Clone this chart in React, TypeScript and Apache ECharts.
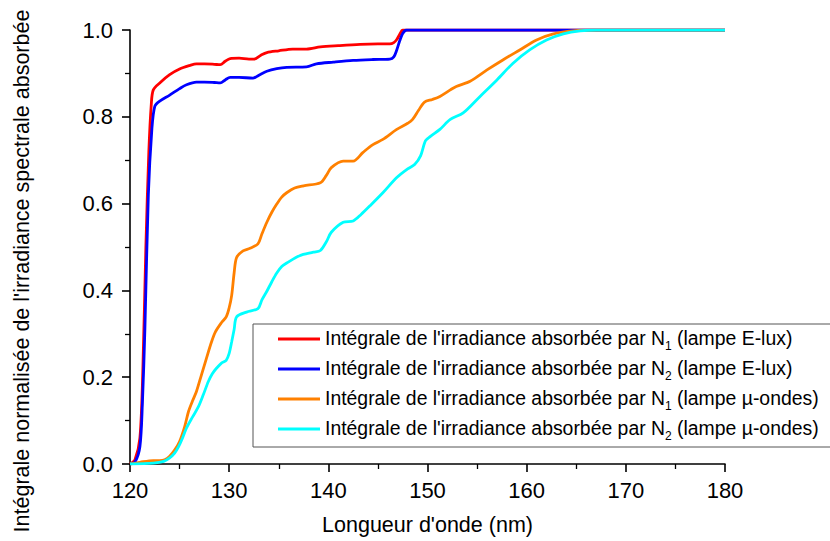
import React, { useEffect, useRef } from "react";
import * as echarts from "echarts";

const FONT = "'Liberation Sans', Arial, Helvetica, sans-serif";

const seriesNames = [
  "Intégrale de l'irradiance absorbée par N1 (lampe E-lux)",
  "Intégrale de l'irradiance absorbée par N2 (lampe E-lux)",
  "Intégrale de l'irradiance absorbée par N1 (lampe µ-ondes)",
  "Intégrale de l'irradiance absorbée par N2 (lampe µ-ondes)",
];
const seriesColors = ["#FF0000", "#0000FF", "#FF8000", "#00FFFF"];

const xTicks = [120, 130, 140, 150, 160, 170, 180];
const yTicks = [0, 0.2, 0.4, 0.6, 0.8, 1.0];

const redX = [120, 120.5, 121, 121.3, 121.6, 121.9, 122.15, 122.35, 123, 124, 125, 126, 126.7, 127.5, 128.5, 129.1, 129.6, 130.1, 131, 132, 132.5, 133.2, 133.8, 135, 136.4, 137.8, 139.2, 141, 143.2, 145, 146.2, 146.6, 146.9, 147.2, 147.5, 148, 150, 160, 170, 180];
const redY = [0, 0.01, 0.06, 0.22, 0.5, 0.72, 0.83, 0.862, 0.878, 0.897, 0.91, 0.918, 0.922, 0.922, 0.921, 0.92, 0.928, 0.934, 0.935, 0.933, 0.933, 0.942, 0.948, 0.952, 0.956, 0.956, 0.961, 0.964, 0.967, 0.968, 0.968, 0.971, 0.978, 0.99, 1.0, 1.0, 1.0, 1.0, 1.0, 1.0];

const blueX = [120, 120.5, 121, 121.25, 121.5, 121.85, 122.2, 122.5, 123, 124, 125, 125.7, 126.7, 127.5, 128.5, 129.1, 129.6, 130.1, 131, 132.4, 133, 133.8, 134.8, 135.8, 137.8, 138.8, 140.5, 142.5, 144.5, 146.2, 146.6, 146.9, 147.2, 147.5, 147.9, 150, 160, 170, 180];
const blueY = [0, 0.004, 0.04, 0.14, 0.31, 0.62, 0.77, 0.824, 0.836, 0.85, 0.865, 0.874, 0.88, 0.88, 0.879, 0.878, 0.885, 0.891, 0.891, 0.889, 0.896, 0.905, 0.911, 0.914, 0.915, 0.922, 0.926, 0.93, 0.932, 0.933, 0.938, 0.954, 0.975, 0.992, 1.0, 1.0, 1.0, 1.0, 1.0];

const orangeX = [120, 121, 122.35, 123, 123.5, 124, 124.5, 125, 125.5, 125.9, 126.3, 126.7, 127.2, 127.7, 128.2, 128.6, 129.2, 129.7, 130.0, 130.25, 130.5, 130.75, 131.4, 132.1, 132.9, 133.3, 133.8, 134.3, 134.8, 135.3, 135.8, 136.6, 137.5, 139.2, 139.8, 140.3, 141.5, 142.5, 143.5, 144.5, 145.5, 146.9, 148.0, 148.5, 149.1, 149.7, 150.5, 151.25, 152.3, 152.9, 154.3, 156.0, 157.6, 159.3, 161.0, 162.7, 164.7, 167, 170, 180];
const orangeY = [0, 0.004, 0.008, 0.008, 0.01, 0.018, 0.032, 0.052, 0.085, 0.121, 0.145, 0.167, 0.205, 0.243, 0.28, 0.304, 0.325, 0.339, 0.36, 0.388, 0.44, 0.476, 0.491, 0.497, 0.507, 0.53, 0.557, 0.58, 0.599, 0.615, 0.625, 0.636, 0.641, 0.648, 0.665, 0.683, 0.698, 0.698, 0.718, 0.736, 0.748, 0.771, 0.785, 0.794, 0.815, 0.834, 0.84, 0.847, 0.862, 0.87, 0.882, 0.908, 0.931, 0.954, 0.977, 0.991, 0.998, 1.0, 1.0, 1.0];

const cyanX = [120, 122.35, 123.4, 124, 124.5, 124.9, 125.3, 125.7, 126.3, 126.9, 127.4, 127.9, 128.3, 128.7, 129.2, 129.7, 130.0, 130.25, 130.5, 130.75, 131.75, 132.9, 133.3, 133.8, 134.3, 134.8, 135.3, 135.8, 137.1, 138.5, 139.2, 139.8, 140.3, 141.5, 142.5, 143.3, 144.2, 145.5, 146.9, 148.0, 148.7, 149.3, 149.8, 150.3, 151.25, 152.3, 153.6, 155.3, 157.0, 158.6, 160.3, 162.0, 163.7, 165.4, 167, 170, 180];
const cyanY = [0, 0.002, 0.006, 0.014, 0.025, 0.04, 0.06, 0.083, 0.108, 0.132, 0.16, 0.19, 0.208, 0.22, 0.232, 0.239, 0.255, 0.281, 0.31, 0.339, 0.35, 0.358, 0.378, 0.398, 0.42, 0.44, 0.455, 0.463, 0.48, 0.488, 0.492, 0.512, 0.534, 0.557, 0.56, 0.575, 0.595, 0.625, 0.66, 0.68, 0.69, 0.71, 0.745, 0.755, 0.771, 0.794, 0.809, 0.847, 0.885, 0.923, 0.954, 0.977, 0.991, 0.998, 1.0, 1.0, 1.0];

const xs = [redX, blueX, orangeX, cyanX];
const ys = [redY, blueY, orangeY, cyanY];

export default function App() {
  const ref = useRef<HTMLDivElement>(null);
  useEffect(() => {
    if (!ref.current) return;
    const chart = echarts.init(ref.current, null, { renderer: "svg" });
    const series = seriesNames.map((name, i) => ({
      name,
      type: "line",
      data: xs[i].map((x, j) => [x, ys[i][j]]),
      showSymbol: false,
      symbol: "none",
      smooth: 0.3,
      lineStyle: { color: seriesColors[i], width: 2.8 },
      itemStyle: { color: seriesColors[i] },
      z: 2 + i,
    }));
    chart.setOption({
      animation: false,
      backgroundColor: "#ffffff",
      textStyle: { fontFamily: FONT },
      grid: { left: 130, right: 105, top: 30, bottom: 75, containLabel: false },
      xAxis: {
        type: "value",
        min: xTicks[0],
        max: xTicks[xTicks.length - 1],
        interval: 10,
        name: "Longueur d'onde (nm)",
        nameLocation: "middle",
        nameGap: 50,
        nameTextStyle: { fontFamily: FONT, fontSize: 21.5, color: "#000" },
        axisLine: { show: true, lineStyle: { color: "#000", width: 1.6 } },
        axisTick: { show: true, inside: false, length: 8, lineStyle: { color: "#000", width: 1.6 } },
        minorTick: { show: true, splitNumber: 2, length: 5, lineStyle: { color: "#000", width: 1.3 } },
        axisLabel: { fontFamily: FONT, fontSize: 22, color: "#000", margin: 15 },
        splitLine: { show: false },
      },
      yAxis: {
        type: "value",
        min: yTicks[0],
        max: yTicks[yTicks.length - 1],
        interval: 0.2,
        axisLine: { show: true, lineStyle: { color: "#000", width: 1.6 } },
        axisTick: { show: true, inside: false, length: 8, lineStyle: { color: "#000", width: 1.6 } },
        minorTick: { show: true, splitNumber: 2, length: 5, lineStyle: { color: "#000", width: 1.3 } },
        axisLabel: {
          fontFamily: FONT,
          fontSize: 22,
          color: "#000",
          margin: 17,
          formatter: (v: number) => v.toFixed(1),
        },
        splitLine: { show: false },
      },
      legend: {
        show: true,
        orient: "vertical",
        left: 253,
        top: 324,
        padding: [4, 30, 5, 25],
        itemGap: 6,
        itemWidth: 42,
        itemHeight: 3,
        icon: "rect",
        backgroundColor: "#ffffff",
        borderColor: "#555",
        borderWidth: 1,
        borderRadius: 0,
        data: seriesNames,
        formatter: (name: string) => {
          const m = name.match(/^(.*par N)(\d)(.*)$/);
          if (!m) return name;
          return `{t|${m[1]}}{s|${m[2]}}{t|${m[3]}}`;
        },
        textStyle: {
          fontFamily: FONT,
          fontSize: 19.4,
          color: "#000",
          rich: {
            t: { fontFamily: FONT, fontSize: 19.4, color: "#000", lineHeight: 22, verticalAlign: "top" },
            s: { fontFamily: FONT, fontSize: 12, color: "#000", lineHeight: 12, verticalAlign: "top", padding: [12, 0, 0, 0] },
          },
        },
      },
      graphic: [
        {
          type: "text",
          x: 22,
          y: 271,
          rotation: Math.PI / 2,
          style: {
            text: "Intégrale normalisée de l'irradiance spectrale absorbée",
            fontFamily: FONT,
            fontSize: 21.5,
            fill: "#000",
            align: "center",
            verticalAlign: "middle",
          },
        },
      ],
      series,
    });
    return () => chart.dispose();
  }, []);
  return <div ref={ref} style={{ width: 830, height: 541, position: "absolute", left: 0, top: 0 }} />;
}
